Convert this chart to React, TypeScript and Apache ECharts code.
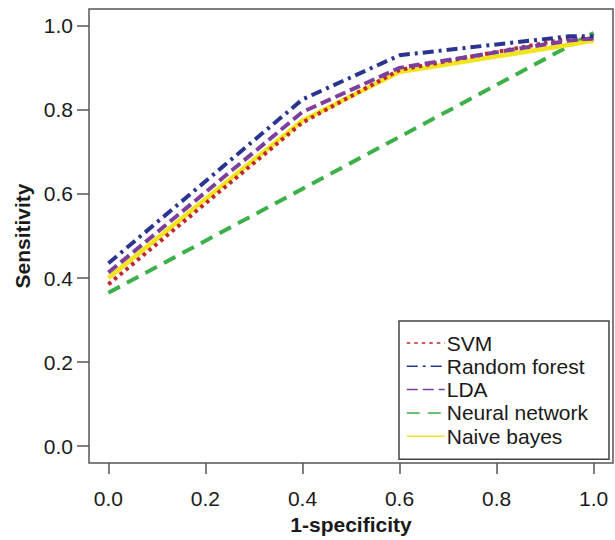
import React, { useEffect, useRef } from "react";
import * as echarts from "echarts";

const xValues = [0, 0.4, 0.6, 0.95, 1.0];
const svm = [0.385, 0.77, 0.895, 0.97, 0.97];
const randomForest = [0.435, 0.825, 0.93, 0.975, 0.975];
const lda = [0.413, 0.795, 0.9, 0.965, 0.97];
const naiveBayes = [0.4, 0.775, 0.89, 0.955, 0.965];
const nnX = [0, 1.0];
const neuralNetwork = [0.365, 0.983];
const tickValues = [0, 0.2, 0.4, 0.6, 0.8, 1.0];
const seriesNames = ["SVM", "Random forest", "LDA", "Neural network", "Naive bayes"];

const FONT = "'Liberation Sans', Arial, sans-serif";

export default function App() {
  const ref = useRef<HTMLDivElement>(null);
  useEffect(() => {
    if (!ref.current) return;
    const chart = echarts.init(ref.current, undefined, { renderer: "svg" });
    const pair = (xs: number[], ys: number[]) => xs.map((x, i) => [x, ys[i]]);
    const mk = (name: string, xs: number[], ys: number[], color: string, type: any, width: number) => ({
      name,
      type: "line",
      data: pair(xs, ys),
      symbol: "none",
      clip: false,
      lineStyle: { color, type, width, cap: "butt" },
      itemStyle: { color },
    });
    const axisCommon = (name: string, nameGap: number, margin: number, tickLen: number) => ({
      type: "value",
      min: -0.04,
      max: 1.04,
      axisLine: { show: false, onZero: false },
      axisTick: { show: true, length: tickLen, customValues: tickValues, lineStyle: { color: "#555", width: 1.5 } },
      splitLine: { show: false },
      axisLabel: {
        fontSize: 21,
        color: "#1a1a1a",
        margin,
        fontFamily: FONT,
        customValues: tickValues,
        formatter: (v: number) => v.toFixed(1),
      },
      name,
      nameLocation: "middle",
      nameGap,
      nameTextStyle: { fontSize: 21, fontWeight: "bold", color: "#1a1a1a", fontFamily: FONT },
    });
    chart.setOption({
      animation: false,
      backgroundColor: "#ffffff",
      textStyle: { fontFamily: FONT },
      grid: { left: 89, top: 9, width: 524, height: 454, show: true, borderColor: "#555", borderWidth: 1.5, backgroundColor: "transparent" },
      xAxis: axisCommon("1-specificity", 50, 25, 11),
      yAxis: axisCommon("Sensitivity", 55, 16, 12),
      legend: {
        data: seriesNames,
        orient: "vertical",
        left: 399,
        top: 321,
        padding: [11, 21, 12, 7],
        itemWidth: 38,
        itemHeight: 10,
        itemGap: 1.3,
        borderColor: "#444",
        borderWidth: 1.5,
        backgroundColor: "#fff",
        lineStyle: { width: 1.5 },
        itemStyle: { opacity: 0, color: "transparent", borderWidth: 0 },
        textStyle: { fontSize: 21, color: "#1a1a1a", fontFamily: FONT, lineHeight: 22, padding: [0, 0, 0, -3] },
      },
      series: [
        mk("Neural network", nnX, neuralNetwork, "#3db04a", [13, 8], 4),
        mk("Naive bayes", xValues, naiveBayes, "#f2e41e", "solid", 4.5),
        mk("SVM", xValues, svm, "#c0272d", [3.5, 4], 4),
        mk("LDA", xValues, lda, "#7d3f9c", [11, 5], 4),
        mk("Random forest", xValues, randomForest, "#2b3590", [11, 5, 3, 5], 4),
      ],
    });
    return () => chart.dispose();
  }, []);
  return <div ref={ref} style={{ position: "fixed", left: 0, top: 0, width: 615, height: 540 }} />;
}
